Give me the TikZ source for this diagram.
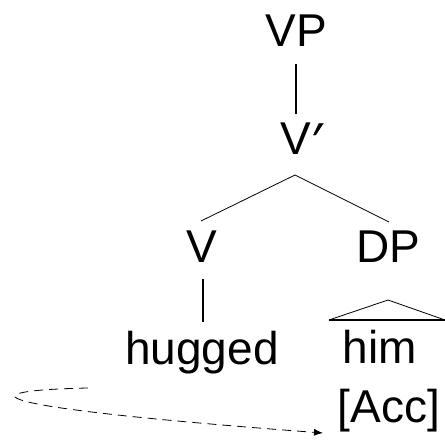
\documentclass[tikz,border=0pt]{standalone}
\usepackage{fontspec}
\setmainfont{Liberation Sans}
\newfontfamily\slantprime[FakeSlant=0.35,FakeBold=0.5]{Liberation Sans}
\usetikzlibrary{arrows.meta}
\begin{document}
\begin{tikzpicture}[x=1pt,y=1pt,
  lab/.style={anchor=base,inner sep=0pt,font=\fontsize{46}{46}\selectfont},
  branch/.style={line width=0.8pt},
  unary/.style={line width=1.5pt},
  mover/.style={line width=0.8pt,dash pattern=on 9pt off 6pt,-{Latex[length=9pt,width=7pt]}}]
\useasboundingbox (0,0) rectangle (445,440);
\node[lab] (vp) at (296,393) {VP};
\node[lab] (vbar) at (297,285) {V\kern-7pt{\slantprime ′}};
\node[lab] (v) at (202,178) {V};
\node[lab] (dp) at (388,178) {DP};
\node[lab] (hugged) at (202,76) {hugged};
\node[lab] (him) at (380,77) {him};
\node[lab] (acc) at (389,18) {[Acc]};
% connector ends
\coordinate (vpb) at (296,376);
\coordinate (vbt) at (296,326);
\coordinate (vbb) at (295,265);
\coordinate (vtop) at (201,219);
\coordinate (dptop) at (389,218);
\coordinate (vb) at (203,161);
\coordinate (ht) at (203,118);
\coordinate (tl) at (329,120);
\coordinate (tr) at (445,120);
\coordinate (tapex) at (388,140);
\coordinate (mstart) at (88,52);
\coordinate (mturn) at (15,43);
\coordinate (mend) at (323,7);
\draw[unary] (vpb) -- (vbt);
\draw[branch] (vtop) -- (vbb) -- (dptop);
\draw[unary] (vb) -- (ht);
\draw[branch] (tl) -- (tapex) -- (tr);
\draw[line width=1.7pt] (tl) -- (tr);
\draw[mover] (mstart) .. controls (40,51) and (12,48) .. (mturn)
  .. controls (25,33) and (150,20) .. (mend);
\end{tikzpicture}
\end{document}
